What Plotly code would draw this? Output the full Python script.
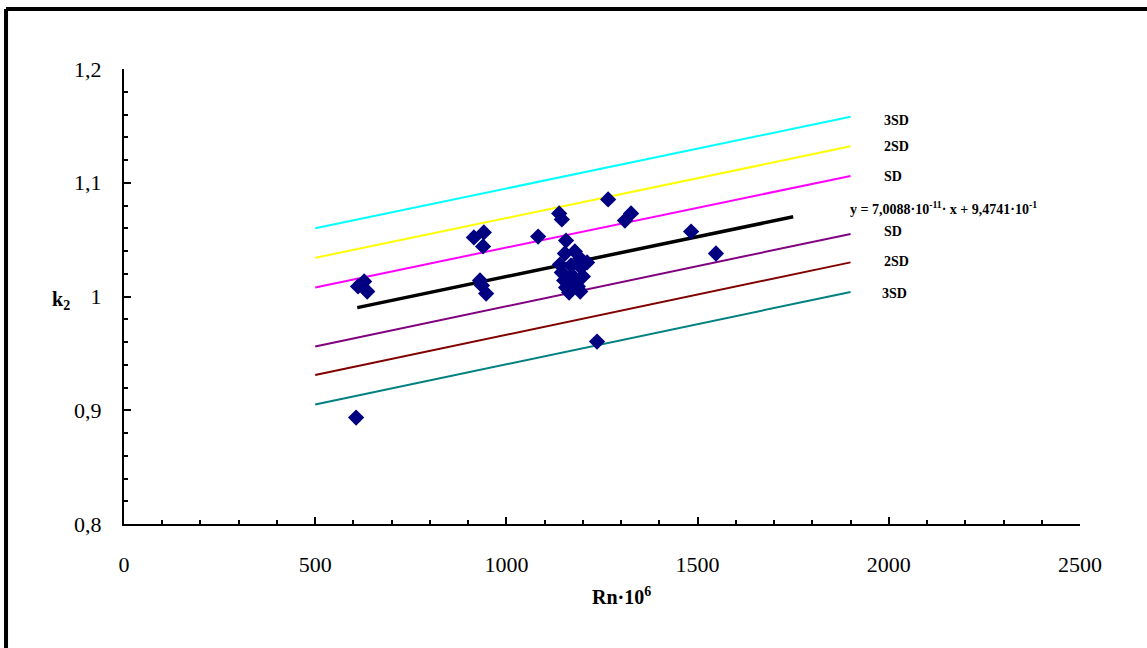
import plotly.graph_objects as go

# ---- data ----
rn = [607, 612, 628, 636, 915, 941, 939, 931, 936, 947,
      1083, 1138, 1145, 1156, 1179, 1153, 1193, 1211, 1140, 1169,
      1195, 1145, 1172, 1200, 1151, 1179, 1156, 1187, 1164, 1193,
      1237, 1266, 1310, 1326, 1483, 1548]
k2 = [0.8936, 1.0088, 1.0132, 1.0044, 1.0519, 1.0563, 1.0440, 1.0141, 1.0097, 1.0026,
      1.0527, 1.0730, 1.0677, 1.0492, 1.0396, 1.0378, 1.0334, 1.0299, 1.0281, 1.0273,
      1.0255, 1.0211, 1.0185, 1.0176, 1.0141, 1.0123, 1.0079, 1.0088, 1.0035, 1.0044,
      0.9604, 1.0853, 1.0668, 1.0730, 1.0571, 1.0378]

fit_x = [610, 1750]
fit_y = [0.9902, 1.0701]

band_x = [500, 1900]
band_names = ["+3SD", "+2SD", "+SD", "-SD", "-2SD", "-3SD"]
band_y = [[1.060, 1.158], [1.034, 1.132], [1.008, 1.106],
          [0.956, 1.055], [0.931, 1.030], [0.905, 1.004]]
band_colors = ["#00FFFF", "#FFFF00", "#FF00FF", "#800080", "#800000", "#008080"]

label_text = ["3SD", "2SD", "SD", "SD", "2SD", "3SD"]
label_x = [2021, 2021, 2011, 2011, 2021, 2016]
label_y = [1.1547, 1.1318, 1.1054, 1.0571, 1.0308, 1.0026]

eq_text = "y = 7,0088·10<sup>-11</sup>· x + 9,4741·10<sup>-1</sup>"
eq_pos = (1893, 1.0774)

x_title = "<b>Rn·10<sup>6</sup></b>"
y_title = "<b>k<sub>2</sub></b>"

x_ticks = [0, 500, 1000, 1500, 2000, 2500]
x_ticktext = ["0", "500", "1000", "1500", "2000", "2500"]
y_ticks = [0.8, 0.9, 1.0, 1.1, 1.2]
y_ticktext = ["0,8", "0,9", "1", "1,1", "1,2"]

FONT = "'Liberation Serif', 'Times New Roman', serif"

fig = go.Figure()
for name, ys, col in zip(band_names, band_y, band_colors):
    fig.add_trace(go.Scatter(x=band_x, y=ys, mode="lines", name=name,
                             line=dict(color=col, width=2), hoverinfo="skip"))
fig.add_trace(go.Scatter(x=fit_x, y=fit_y, mode="lines", name="fit",
                         line=dict(color="black", width=3.5)))
fig.add_trace(go.Scatter(x=rn, y=k2, mode="markers", name="k2",
                         marker=dict(symbol="diamond", size=12.5, color="#000080",
                                     line=dict(width=0))))

for t, lx, ly in zip(label_text, label_x, label_y):
    fig.add_annotation(x=lx, y=ly, xref="x", yref="y", text="<b>%s</b>" % t,
                       showarrow=False, font=dict(family=FONT, size=14, color="black"))
fig.add_annotation(x=eq_pos[0], y=eq_pos[1], xref="x", yref="y", text="<b>%s</b>" % eq_text,
                   showarrow=False, xanchor="left",
                   font=dict(family=FONT, size=14, color="black"))

# axis titles
fig.add_annotation(x=-0.077, y=0.492, xref="paper", yref="paper", text=y_title,
                   showarrow=False, font=dict(family=FONT, size=20, color="black"))
fig.add_annotation(x=0.5209, y=-0.188, xref="paper", yref="paper", text=x_title,
                   showarrow=False, font=dict(family=FONT, size=20, color="black"))

# outer frame (cut at right and bottom as in the reference)
fig.add_shape(type="line", xref="paper", yref="paper", x0=-0.1234, x1=1.2,
              y0=1.1319, y1=1.1319, line=dict(color="black", width=4))
fig.add_shape(type="line", xref="paper", yref="paper", x0=-0.1234, x1=-0.1234,
              y0=1.1319, y1=-0.4, line=dict(color="black", width=4))

fig.update_xaxes(range=[0, 2500], tickmode="array", tickvals=x_ticks, ticktext=x_ticktext,
                 showline=True, linecolor="black", linewidth=2, showgrid=False, zeroline=False,
                 ticks="inside", ticklen=7, tickwidth=2, tickcolor="black",
                 ticklabelstandoff=20,
                 minor=dict(tickmode="linear", tick0=0, dtick=100, ticks="inside",
                            ticklen=4, tickwidth=1.5, tickcolor="black", showgrid=False),
                 tickfont=dict(family=FONT, size=22, color="black"))
fig.update_yaxes(range=[0.8, 1.2], tickmode="array", tickvals=y_ticks, ticktext=y_ticktext,
                 showline=True, linecolor="black", linewidth=2, showgrid=False, zeroline=False,
                 ticks="inside", ticklen=7, tickwidth=2, tickcolor="black",
                 ticklabelstandoff=16,
                 minor=dict(tickmode="linear", tick0=0.8, dtick=0.02, ticks="inside",
                            ticklen=4, tickwidth=1.5, tickcolor="black", showgrid=False),
                 tickfont=dict(family=FONT, size=22, color="black"))

fig.update_layout(width=1147, height=648, showlegend=False,
                  plot_bgcolor="white", paper_bgcolor="white",
                  margin=dict(l=124, r=67, t=69, b=124),
                  font=dict(family=FONT, color="black"))

fig.write_html("out.html", config={"displayModeBar": False},
               post_script="document.body.style.margin='0';document.body.style.overflow='hidden';")
